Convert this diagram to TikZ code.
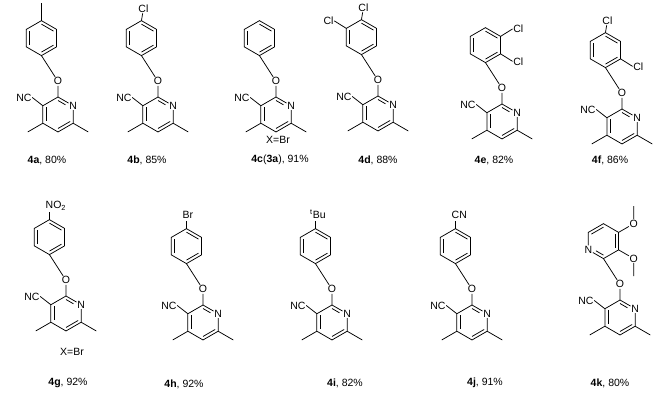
\documentclass[tikz,border=0pt]{standalone}
\usepackage{fontspec}
\setmainfont{Liberation Sans}
\usetikzlibrary{calc}
\tikzset{
  bond/.style={line width=0.75pt},
  atom/.style={inner sep=0.6pt,font=\fontsize{10.5}{12}\selectfont},
  lbl/.style={font=\fontsize{10.5}{12}\selectfont},
  molsc/.style={scale=0.92}
}
\newcommand\dbl[3]{\draw[bond] ($(#1)!0.2!(#3)$) -- ($(#2)!0.2!(#3)$);}
\newcommand\core[1]{%
  \coordinate (#1c2) at (0,0);
  \node[atom] (#1N) at (16.45,9.5) {N};
  \coordinate (#1c6) at (16.45,28.5);
  \coordinate (#1c5) at (0,38);
  \coordinate (#1c4) at (-16.45,28.5);
  \coordinate (#1c3) at (-16.45,9.5);
  \coordinate (#1ctr) at (0,19);
  \coordinate (#1m6) at (32.9,38);
  \coordinate (#1m4) at (-32.9,38);
  \node[atom,anchor=east] (#1CN) at (-28,0.5) {NC};
  \node[atom] (#1O) at (0,-17) {O};
  \coordinate (#1ch) at (-9,-31);
  \coordinate (#1B) at (-18,-45);
  \draw[bond] (#1N) -- (#1c2) -- (#1c3) -- (#1c4) -- (#1c5) -- (#1c6) -- (#1N);
  \draw[bond] (#1c6) -- (#1m6);
  \draw[bond] (#1c4) -- (#1m4);
  \draw[bond] (#1c3) -- (#1CN.east);
  \draw[bond] (#1c2) -- (#1O) -- (#1ch) -- (#1B);
  \dbl{#1c3}{#1c4}{#1ctr}
  \dbl{#1c5}{#1c6}{#1ctr}
  \draw[bond] ($(#1c2)!0.2!(#1ctr)$) -- ($($(#1c2)!0.2!(#1ctr)$)!0.62!($(#1N.center)!0.2!(#1ctr)$)$);
}
\newcommand\benz[1]{%
  \coordinate (#1bc) at (-18,-64);
  \coordinate (#1T) at (-18,-83);
  \coordinate (#1UR) at (-1.55,-73.5);
  \coordinate (#1LR) at (-1.55,-54.5);
  \coordinate (#1Bb) at (-18,-45);
  \coordinate (#1LL) at (-34.45,-54.5);
  \coordinate (#1UL) at (-34.45,-73.5);
  \draw[bond] (#1T) -- (#1UR) -- (#1LR) -- (#1Bb) -- (#1LL) -- (#1UL) -- cycle;
  \dbl{#1T}{#1UR}{#1bc}
  \dbl{#1LR}{#1Bb}{#1bc}
  \dbl{#1LL}{#1UL}{#1bc}
}
\newcommand\mol[3]{\begin{scope}[shift={(#1,#2)},molsc]\core{#3}\benz{#3}\end{scope}}
\begin{document}
\begin{tikzpicture}[x=1pt,y=-1pt]
\useasboundingbox (0,0) rectangle (663,400);
% row 1
\mol{58}{97}{a}
\coordinate (aMe) at ($(aT)+(0,-17.5)$);
\draw[bond] (aT) -- (aMe);
\node[lbl] (la) at (47,160) {\textbf{4a}, 80\%};

\mol{158}{97}{b}
\node[atom] (bCl) at ($(bT)+(2,-12)$) {Cl};
\draw[bond] (bT) -- (bCl);
\node[lbl] (lb) at (147,160) {\textbf{4b}, 85\%};

\mol{276}{97}{c}
\node[lbl] (xc) at (278,140) {X=Br};
\node[lbl] (lc) at (280,160) {\textbf{4c}(\textbf{3a}), 91\%};

\mol{378}{96}{d}
\node[atom] (dCl1) at ($(dT)+(2,-12)$) {Cl};
\draw[bond] (dT) -- (dCl1);
\node[atom,anchor=east] (dCl2) at ($(dUL)+(-12,-7.5)$) {Cl};
\draw[bond] (dUL) -- (dCl2.east);
\node[lbl] (ld) at (378,160) {\textbf{4d}, 88\%};

\mol{502}{104}{e}
\node[atom,anchor=west] (eCl1) at ($(eUR)+(12,-7.5)$) {Cl};
\draw[bond] (eUR) -- (eCl1.west);
\node[atom,anchor=west] (eCl2) at ($(eLR)+(12,7.5)$) {Cl};
\draw[bond] (eLR) -- (eCl2.west);
\node[lbl] (le) at (494,160) {\textbf{4e}, 82\%};

\mol{622}{109}{f}
\node[atom] (fCl1) at ($(fT)+(2,-12)$) {Cl};
\draw[bond] (fT) -- (fCl1);
\node[atom,anchor=west] (fCl2) at ($(fLR)+(12,7.5)$) {Cl};
\draw[bond] (fLR) -- (fCl2.west);
\node[lbl] (lf) at (610,160) {\textbf{4f}, 86\%};

% row 2
\mol{66}{296}{g}
\node[atom,anchor=west] (gNO) at ($(gT)+(-4.5,-14)$) {NO\textsubscript{2}};
\draw[bond] (gT) -- ($(gT)+(0,-8)$);
\node[lbl] (xg) at (72,352) {X=Br};
\node[lbl] (lg) at (68,383) {\textbf{4g}, 92\%};

\mol{203}{305}{h}
\node[atom,anchor=west] (hBr) at ($(hT)+(-4.5,-14)$) {Br};
\draw[bond] (hT) -- ($(hT)+(0,-8)$);
\node[lbl] (lh) at (184,384) {\textbf{4h}, 92\%};

\mol{332}{305}{i}
\node[atom,anchor=west] (itBu) at ($(iT)+(-6,-14)$) {\textsuperscript{t}Bu};
\draw[bond] (iT) -- ($(iT)+(0,-8)$);
\node[lbl] (li) at (345,383) {\textbf{4i}, 82\%};

\mol{472}{305}{j}
\node[atom,anchor=west] (jCN) at ($(jT)+(-4.5,-14)$) {CN};
\draw[bond] (jT) -- ($(jT)+(0,-8)$);
\node[lbl] (lj) at (485,383) {\textbf{4j}, 91\%};

\begin{scope}[shift={(620,300)},molsc]
\core{k}
\coordinate (kbc) at (-18,-64);
\coordinate (kT) at (-18,-83);
\coordinate (kUR) at (-1.55,-73.5);
\coordinate (kLR) at (-1.55,-54.5);
\node[atom] (kN2) at (-34.45,-54.5) {N};
\coordinate (kUL) at (-34.45,-73.5);
\draw[bond] (kB) -- (kLR) -- (kUR) -- (kT) -- (kUL) -- (kN2) -- (kB);
\dbl{kT}{kUL}{kbc}
\dbl{kUR}{kLR}{kbc}
\draw[bond] ($(kB)!0.2!(kbc)$) -- ($($(kB)!0.2!(kbc)$)!0.62!($(kN2.center)!0.2!(kbc)$)$);
\node[atom] (kO1) at (14.9,-83) {O};
\coordinate (kMe1) at (14.9,-102);
\draw[bond] (kUR) -- (kO1) -- (kMe1);
\node[atom] (kO2) at (14.9,-45) {O};
\coordinate (kMe2) at (14.9,-26);
\draw[bond] (kLR) -- (kO2) -- (kMe2);
\end{scope}
\node[lbl] (lk) at (610,383) {\textbf{4k}, 80\%};
\end{tikzpicture}
\end{document}
